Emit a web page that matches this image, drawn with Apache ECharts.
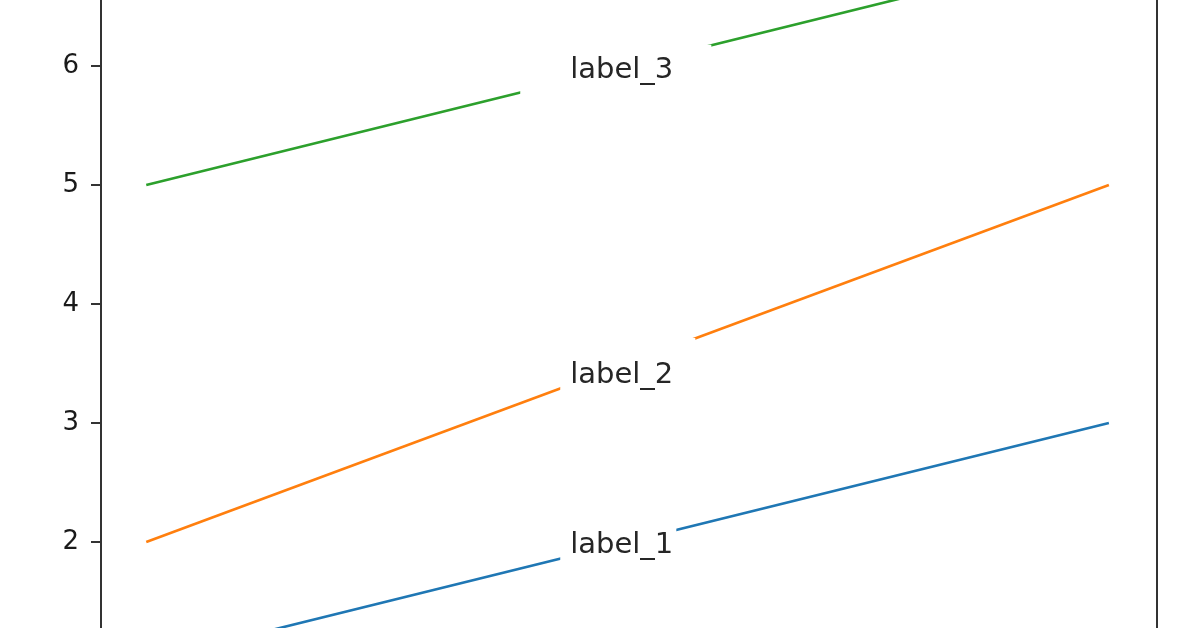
<!DOCTYPE html>
<html>
<head>
<meta charset="utf-8">
<script src="https://cdn.jsdelivr.net/npm/echarts@6/dist/echarts.min.js"></script>
<style>
html,body{margin:0;padding:0;background:#fff;}
#chart{width:1196px;height:628px;}
</style>
</head>
<body>
<div id="chart"></div>
<script>
// ---- data ----
var xValues = [0, 1];
var line1 = [1, 3];
var line2 = [2, 5];
var line3 = [5, 7];
var seriesNames = ['label_1', 'label_2', 'label_3'];
var labelX = [0.494, 0.494, 0.494];
var labelY = [1.97, 3.40, 5.96];
var yTicks = [1, 2, 3, 4, 5, 6, 7];

var colors = ['#1f77b4', '#ff7f0e', '#2ca02c'];
var lines = [line1, line2, line3];

// label box styling (padding: top,right,bottom,left) and vertical shift
var pads = [[2, 3, 2, 10], [40, 22, 1, 10], [9, 38, 9, 50]];
var shiftY = [0, 0, 0];

var series = [];
lines.forEach(function (vals, i) {
  series.push({
    type: 'line',
    name: seriesNames[i],
    data: xValues.map(function (x, k) { return [x, vals[k]]; }),
    showSymbol: false,
    symbol: 'none',
    lineStyle: { color: colors[i], width: 2.6 },
    z: 2,
    silent: true
  });
});
seriesNames.forEach(function (n, i) {
  var p = pads[i];
  series.push({
    type: 'scatter',
    symbolSize: 0,
    data: [{ value: [labelX[i], labelY[i]], name: n }],
    z: 10,
    silent: true,
    itemStyle: { opacity: 1 },
    label: {
      show: true,
      position: 'inside',
      formatter: '{b}',
      fontFamily: 'DejaVu Sans',
      fontSize: 29,
      lineHeight: 34,
      color: '#262626',
      opacity: 1,
      backgroundColor: '#ffffff',
      padding: p,
      offset: [-(p[3] - p[1]) / 2, shiftY[i]]
    }
  });
});

var chart = echarts.init(document.getElementById('chart'), null, { renderer: 'canvas' });
chart.setOption({
  animation: false,
  backgroundColor: '#ffffff',
  grid: {
    left: 101, right: 39, top: -53, bottom: -33,
    outerBoundsMode: 'none',
    containLabel: false,
    show: true, borderColor: '#333333', borderWidth: 2, backgroundColor: 'transparent'
  },
  xAxis: {
    type: 'value', min: -0.047, max: 1.05,
    show: false
  },
  yAxis: {
    type: 'value', min: yTicks[0], max: yTicks[yTicks.length - 1], interval: 1,
    axisLine: { show: true, onZero: false, lineStyle: { color: '#333333', width: 2 } },
    axisTick: { show: true, length: 10, lineStyle: { color: '#333333', width: 2 } },
    axisLabel: {
      margin: 22, fontSize: 26, fontFamily: 'DejaVu Sans', color: '#1a1a1a',
      formatter: function (v) { return String(v); }
    },
    splitLine: { show: false }
  },
  series: series
});
</script>
</body>
</html>
